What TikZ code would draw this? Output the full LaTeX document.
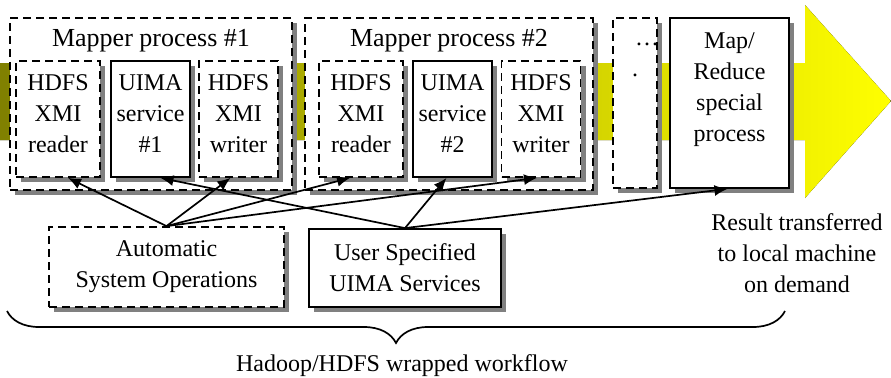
\documentclass[tikz,border=0pt]{standalone}
\usepackage{fontspec}
\setmainfont{Liberation Serif}
\usetikzlibrary{arrows.meta,shadows,decorations.pathreplacing}

\begin{document}
\begin{tikzpicture}[x=0.5pt, y=-0.5pt, font=\fontsize{12}{15.5}\selectfont,
    every node/.style={align=center, inner sep=0pt},
    box/.style={draw, fill=white, line width=0.9pt,
        drop shadow={shadow xshift=2.5pt, shadow yshift=-2.5pt, fill=gray, opacity=1}},
    dbox/.style={box, dash pattern=on 4pt off 2.5pt},
    proc/.style={minimum width=39.5pt, minimum height=58pt, text depth=5.5pt},
    link/.style={-{Latex[length=6.5pt, width=5.5pt]}, line width=0.85pt}]

    \useasboundingbox (0,0) rectangle (891,377);

    % Workflow arrow
    \fill[left color=olive, right color=yellow]
        (0,63) -- (805,63) -- (805,5) -- (891,101) -- (805,198) -- (805,140) -- (0,140) -- cycle;

    % Mapper processes
    \node[dbox, minimum width=141pt, minimum height=86pt] (map1) at (151,104) {};
    \node[dbox, minimum width=144pt, minimum height=86pt] (map2) at (449,104) {};
    \node[font=\fontsize{13}{15.5}\selectfont] (map1t) at (151,41) {Mapper process \#1};
    \node[font=\fontsize{13}{15.5}\selectfont] (map2t) at (449,41) {Mapper process \#2};

    \node[dbox, proc, minimum width=42pt] (rd1) at (58,119) {HDFS\\XMI\\reader};
    \node[box, proc] (svc1) at (150.5,119) {UIMA\\service\\\#1};
    \node[dbox, proc] (wr1) at (238.5,119) {HDFS\\XMI\\writer};
    \node[dbox, proc, minimum width=42pt] (rd2) at (361,119) {HDFS\\XMI\\reader};
    \node[box, proc] (svc2) at (452.5,119) {UIMA\\service\\\#2};
    \node[dbox, proc] (wr2) at (541,119) {HDFS\\XMI\\writer};

    % More mappers and the reduce step
    \node[dbox, minimum width=22pt, minimum height=85pt, text depth=43.7pt] (more) at (635,103) {\rlap{\dots}\\.};
    \node[box, minimum width=59.5pt, minimum height=85pt, text depth=16pt] (mr) at (729.5,103) {Map/\\Reduce\\special\\process};
    \node (res) at (797,253) {Result transferred\\to local machine\\on demand};

    % Bottom row
    \node[dbox, minimum width=117.5pt, minimum height=40pt] (auto) at (166.5,267) {Automatic\\System Operations};
    \node[box, minimum width=96pt, minimum height=39pt] (user) at (405,268) {User Specified\\UIMA Services};

    % Links
    \draw[link] (auto.north) -- ([xshift=5pt]rd1.south);
    \draw[link] (auto.north) -- ([xshift=-4pt]wr1.south);
    \draw[link] (auto.north) -- ([xshift=-5.5pt]rd2.south);
    \draw[link] (auto.north) -- ([xshift=-2pt]wr2.south);
    \draw[link] (user.north) -- ([xshift=5pt]svc1.south);
    \draw[link] (user.north) -- ([xshift=-3pt]svc2.south);
    \draw[link] (user.north) -- ([xshift=-1pt]mr.south);

    % Brace
    \coordinate (brl) at (7,311);
    \coordinate (brr) at (785,311);
    \draw[decorate, decoration={brace, amplitude=16pt, mirror}, line width=0.85pt] (brl) -- (brr);
    \node (wf) at (402,366) {Hadoop/HDFS wrapped workflow};

\end{tikzpicture}
\end{document}
